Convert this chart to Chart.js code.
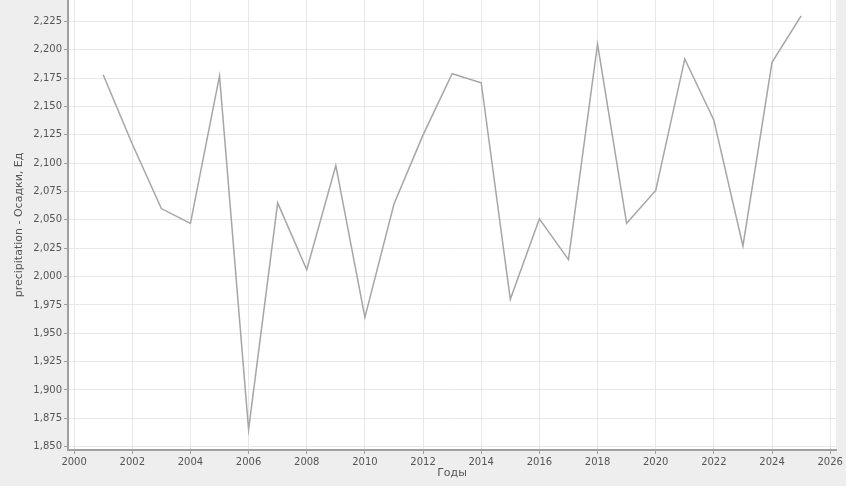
<!DOCTYPE html>
<html>
<head>
<meta charset="utf-8">
<script src="https://cdn.jsdelivr.net/npm/chart.js@4"></script>
<style>
  html, body { margin: 0; padding: 0; background: #eeeeee; }
  #wrap { width: 846px; height: 486px; }
</style>
</head>
<body>
<div id="wrap"><canvas id="chart"></canvas></div>
<script>
const years = [
  2001, 2002, 2003, 2004, 2005, 2006, 2007, 2008, 2009, 2010, 2011, 2012, 2013,
  2014, 2015, 2016, 2017, 2018, 2019, 2020, 2021, 2022, 2023, 2024, 2025,
];
const precipitation = [
  2178, 2117, 2060, 2047, 2177, 1865, 2065, 2006, 2098, 1964, 2064, 2125, 2179,
  2171, 1980, 2051, 2015, 2205, 2047, 2076, 2192, 2138, 2027, 2189, 2230,
];
const yTitle = "precipitation - Осадки, Ед";
const xTitle = "Годы";

const tickFont = { family: "DejaVu Sans", size: 10 };
const titleFont = { family: "DejaVu Sans", size: 11 };

// white plot background
const plotBg = {
  id: "plotBg",
  beforeDraw(chart) {
    const { ctx, chartArea: a } = chart;
    ctx.save();
    ctx.fillStyle = "#ffffff";
    ctx.fillRect(a.left, a.top, a.right - a.left, a.bottom - a.top);
    ctx.restore();
  },
};

new Chart(document.getElementById("chart"), {
  type: "line",
  data: {
    datasets: [
      {
        label: yTitle,
        data: years.map((y, i) => ({ x: y, y: precipitation[i] })),
        borderColor: "#a6a6a6",
        borderWidth: 1.5,
        pointRadius: 0,
        tension: 0,
        fill: false,
      },
    ],
  },
  options: {
    responsive: true,
    maintainAspectRatio: false,
    animation: false,
    layout: { padding: { top: 0, right: 10, left: 0, bottom: 0 } },
    plugins: {
      legend: { display: false },
      tooltip: { enabled: false },
    },
    scales: {
      x: {
        type: "linear",
        min: 1999.79,
        max: 2026.2,
        afterFit: (s) => { s.height = 36; },
        border: { display: true, color: "#a0a0a0", width: 2 },
        grid: { color: "#e8e8e8", tickColor: "#a0a0a0", tickLength: 4 },
        ticks: {
          stepSize: 2,
          includeBounds: false,
          maxRotation: 0,
          padding: 2,
          color: "#555555",
          font: tickFont,
          callback: (v) => String(v),
        },
        title: {
          display: true,
          text: xTitle,
          color: "#555555",
          font: titleFont,
          padding: { top: 0, bottom: 6 },
        },
      },
      y: {
        min: 1847,
        max: 2244,
        afterFit: (s) => { s.width = 68; s.paddingTop = 0; },
        border: { display: true, color: "#a0a0a0", width: 2 },
        grid: { color: "#e8e8e8", tickColor: "#a0a0a0", tickLength: 4 },
        ticks: {
          stepSize: 25,
          includeBounds: false,
          padding: 2,
          color: "#555555",
          font: tickFont,
          callback: (v) => v.toLocaleString("en-US"),
        },
        title: {
          display: true,
          text: yTitle,
          color: "#555555",
          font: titleFont,
          padding: { top: 13, bottom: 0 },
        },
      },
    },
  },
  plugins: [plotBg],
});
</script>
</body>
</html>
